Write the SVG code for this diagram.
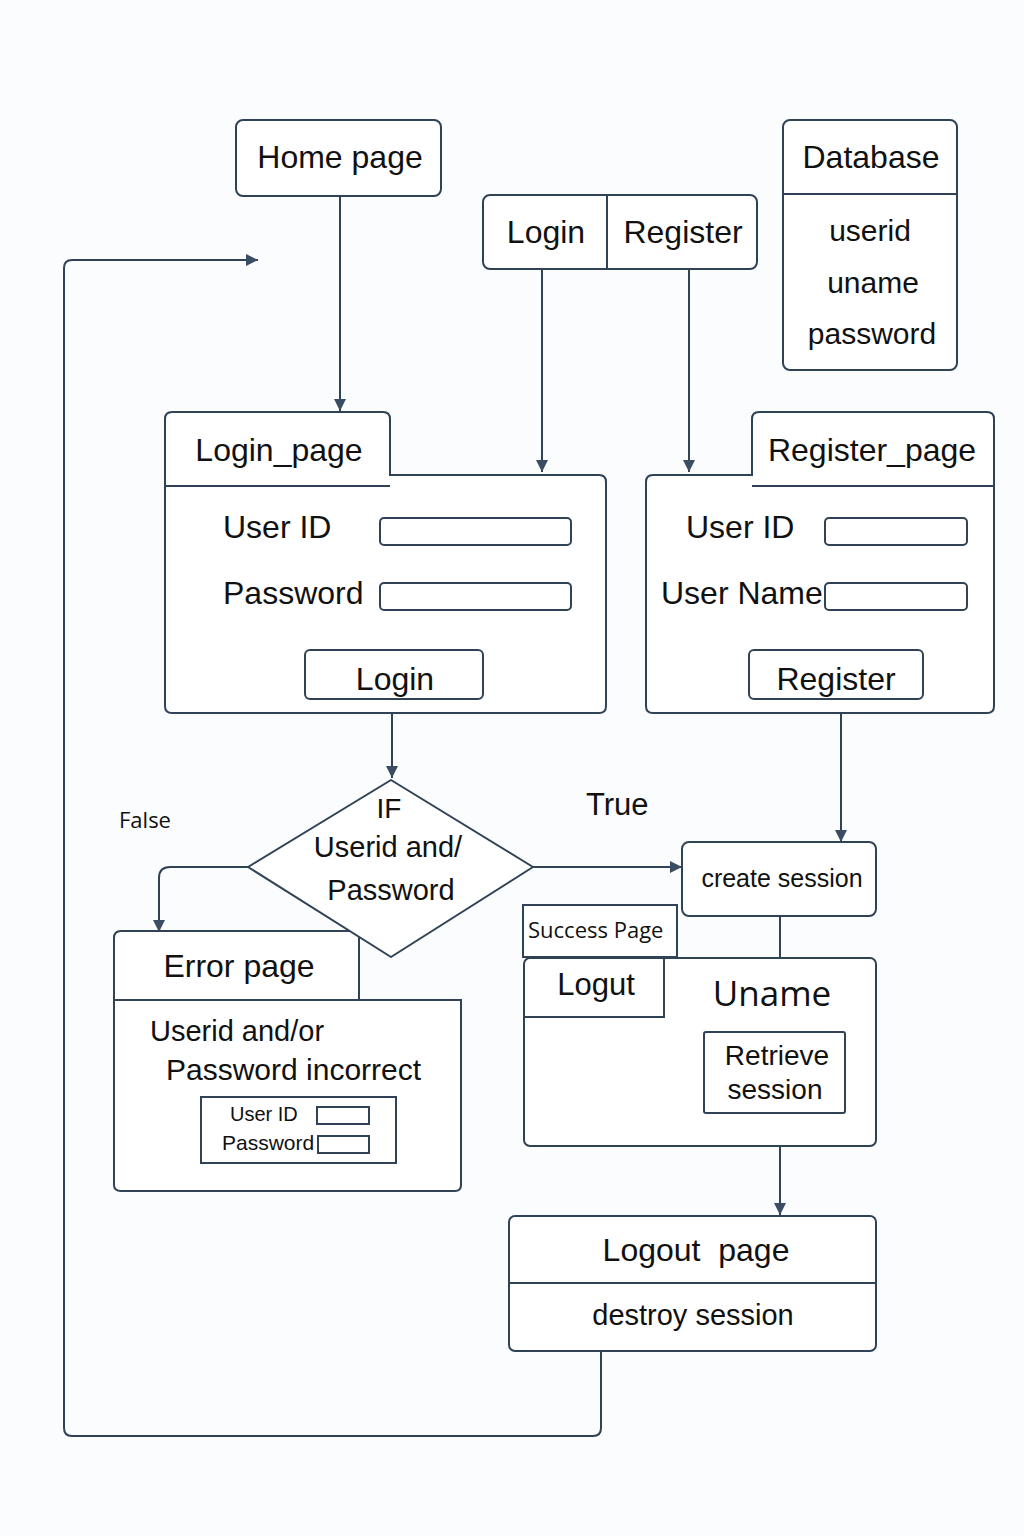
<svg xmlns="http://www.w3.org/2000/svg" width="1024" height="1536" viewBox="0 0 1024 1536">
<style>
.box{fill:#ffffff;stroke:#2f4256;stroke-width:2}
.ln{fill:none;stroke:#2f4256;stroke-width:2}
.con{fill:none;stroke:#2f4256;stroke-width:2}
.t{font-family:"Liberation Sans",Arial,sans-serif;fill:#111;}
.o{font-family:"Open Sans","Noto Sans",sans-serif;fill:#111;}
.c{text-anchor:middle}
</style>
<defs>
<marker id="a" viewBox="0 0 12 12" refX="12" refY="6" markerWidth="12" markerHeight="12" orient="auto" markerUnits="userSpaceOnUse">
<path d="M0,0 L12,6 L0,12 z" fill="#3a4d63"/>
</marker>
</defs>
<rect x="0" y="0" width="1024" height="1536" fill="#fbfcfd"/>

<g id="connectors">
<path class="con" d="M340,196 V411" marker-end="url(#a)"/>
<path class="con" d="M542,269 V472" marker-end="url(#a)"/>
<path class="con" d="M689,269 V472" marker-end="url(#a)"/>
<path class="con" d="M392,699 V778" marker-end="url(#a)"/>
<path class="con" d="M841,699 V842" marker-end="url(#a)"/>
<path class="con" d="M533,867 H682" marker-end="url(#a)"/>
<path class="con" d="M248,867 H170 Q159,867 159,878 V932" marker-end="url(#a)"/>
<path class="con" d="M780,916 V958"/>
<path class="con" d="M780,1146 V1215" marker-end="url(#a)"/>
<path class="con" d="M601,1351 V1428 Q601,1436 593,1436 H72 Q64,1436 64,1428 V268 Q64,260 72,260 H258" marker-end="url(#a)"/>
</g>

<g id="home">
<rect class="box" x="236" y="120" width="205" height="76" rx="7"/>
<text class="t c" x="340" y="168" font-size="32">Home page</text>
</g>

<g id="menu">
<rect class="box" x="483" y="195" width="274" height="74" rx="7"/>
<line class="ln" x1="607" y1="195" x2="607" y2="269"/>
<text class="t c" x="546" y="243" font-size="32">Login</text>
<text class="t c" x="683" y="243" font-size="32">Register</text>
</g>

<g id="database">
<rect class="box" x="783" y="120" width="174" height="250" rx="7"/>
<line class="ln" x1="783" y1="194" x2="957" y2="194"/>
<text class="t c" x="871" y="168" font-size="32">Database</text>
<text class="t c" x="870" y="241" font-size="30">userid</text>
<text class="t c" x="873" y="293" font-size="30">uname</text>
<text class="t c" x="872" y="344" font-size="30">password</text>
</g>

<g id="login_page">
<path class="box" d="M172,412 H383 Q390,412 390,419 V475 H599 Q606,475 606,482 V706 Q606,713 599,713 H172 Q165,713 165,706 V419 Q165,412 172,412 Z"/>
<line class="ln" x1="165" y1="486" x2="390" y2="486"/>
<text class="t c" x="279" y="461" font-size="32">Login_page</text>
<text class="t" x="223" y="538" font-size="32">User ID</text>
<rect class="box" x="380" y="518" width="191" height="27" rx="4"/>
<text class="t" x="223" y="604" font-size="32">Password</text>
<rect class="box" x="380" y="583" width="191" height="27" rx="4"/>
<rect class="box" x="305" y="650" width="178" height="49" rx="5"/>
<text class="t c" x="395" y="690" font-size="32">Login</text>
</g>

<g id="register_page">
<path class="box" d="M653,475 H752 V419 Q752,412 759,412 H987 Q994,412 994,419 V706 Q994,713 987,713 H653 Q646,713 646,706 V482 Q646,475 653,475 Z"/>
<line class="ln" x1="752" y1="486" x2="994" y2="486"/>
<text class="t c" x="872" y="461" font-size="32">Register_page</text>
<text class="t" x="686" y="538" font-size="32">User ID</text>
<rect class="box" x="825" y="518" width="142" height="27" rx="4"/>
<text class="t" x="661" y="604" font-size="32">User Name</text>
<rect class="box" x="825" y="583" width="142" height="27" rx="4"/>
<rect class="box" x="749" y="650" width="174" height="49" rx="5"/>
<text class="t c" x="836" y="690" font-size="32">Register</text>
</g>

<g id="error_page">
<path class="box" d="M121,931 H359 V1000 H461 V1185 Q461,1191 455,1191 H121 Q114,1191 114,1185 V938 Q114,931 121,931 Z"/>
<line class="ln" x1="114" y1="1000" x2="461" y2="1000"/>
<text class="t c" x="239" y="977" font-size="32">Error page</text>
<text class="t" x="150" y="1041" font-size="29">Userid and/or</text>
<text class="t" x="166" y="1080" font-size="30">Password incorrect</text>
<rect class="box" x="201" y="1097" width="195" height="66"/>
<text class="t" x="230" y="1121" font-size="20">User ID</text>
<rect class="box" x="317" y="1107" width="52" height="17"/>
<text class="t" x="222" y="1150" font-size="21">Password</text>
<rect class="box" x="318" y="1136" width="51" height="17"/>
</g>

<g id="decision">
<path class="box" d="M391,780 L533,867 L391,957 L248,867 Z" stroke-linejoin="round"/>
<text class="t c" x="389" y="818" font-size="28">IF</text>
<text class="t c" x="388" y="857" font-size="29">Userid and/</text>
<text class="t c" x="391" y="900" font-size="29">Password</text>
</g>

<g id="labels">
<text class="o" x="119" y="828" font-size="22">False</text>
<text class="t" x="586" y="815" font-size="31">True</text>
</g>

<g id="create_session">
<rect class="box" x="682" y="842" width="194" height="74" rx="7"/>
<text class="t c" x="782" y="887" font-size="25">create session</text>
</g>

<g id="success_page">
<rect class="box" x="523" y="905" width="154" height="52"/>
<text class="o" x="528" y="938" font-size="22">Success Page</text>
<rect class="box" x="524" y="958" width="352" height="188" rx="6"/>
<path class="ln" d="M524,1017 H664 V958"/>
<text class="t c" x="596" y="995" font-size="31">Logut</text>
<text class="o c" x="772" y="1006" font-size="35">Uname</text>
<rect class="box" x="704" y="1032" width="141" height="81" rx="2"/>
<text class="t c" x="777" y="1065" font-size="28">Retrieve</text>
<text class="t c" x="775" y="1099" font-size="28">session</text>
</g>

<g id="logout_page">
<rect class="box" x="509" y="1216" width="367" height="135" rx="6"/>
<line class="ln" x1="509" y1="1283" x2="876" y2="1283"/>
<text class="t c" x="696" y="1261" font-size="32" xml:space="preserve">Logout  page</text>
<text class="t c" x="693" y="1325" font-size="29">destroy session</text>
</g>
</svg>
